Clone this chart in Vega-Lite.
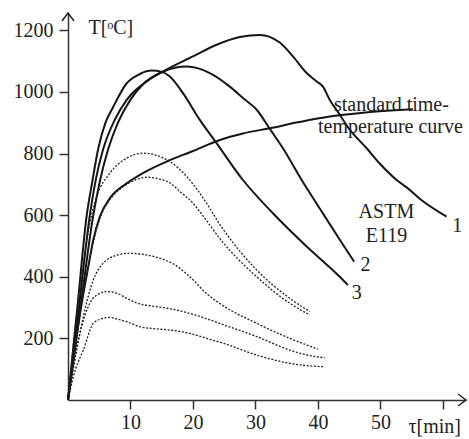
{
  "$schema": "https://vega.github.io/schema/vega-lite/v6.json",
  "width": 398,
  "height": 387,
  "autosize": "none",
  "padding": {"left": 68, "top": 13, "right": 3, "bottom": 39},
  "background": "white",
  "config": {
    "font": "Liberation Serif",
    "view": {"stroke": null},
    "axis": {
      "grid": false,
      "domainColor": "#333",
      "domainWidth": 1.5,
      "tickColor": "#333",
      "tickWidth": 1.5,
      "tickSize": 9,
      "labelFont": "Liberation Serif",
      "labelFontSize": 20,
      "labelColor": "#222",
      "titleFont": "Liberation Serif",
      "titleFontSize": 20,
      "titleFontWeight": "normal",
      "titleColor": "#222"
    }
  },
  "datasets": {
    "curves": [
      {"series": "1", "t": 0, "T": 0}, {"series": "1", "t": 2, "T": 300}, {"series": "1", "t": 4.05, "T": 600}, {"series": "1", "t": 5.1, "T": 710}, {"series": "1", "t": 6.4, "T": 812}, {"series": "1", "t": 8, "T": 900}, {"series": "1", "t": 10, "T": 975}, {"series": "1", "t": 12, "T": 1025}, {"series": "1", "t": 15.2, "T": 1066}, {"series": "1", "t": 20, "T": 1115}, {"series": "1", "t": 23.8, "T": 1153}, {"series": "1", "t": 27.5, "T": 1178}, {"series": "1", "t": 30.7, "T": 1185}, {"series": "1", "t": 33.9, "T": 1160}, {"series": "1", "t": 36, "T": 1115}, {"series": "1", "t": 38.2, "T": 1061}, {"series": "1", "t": 39.8, "T": 1034}, {"series": "1", "t": 40.8, "T": 1017}, {"series": "1", "t": 41.9, "T": 974}, {"series": "1", "t": 43.2, "T": 935}, {"series": "1", "t": 45, "T": 880}, {"series": "1", "t": 47.8, "T": 817}, {"series": "1", "t": 50, "T": 765}, {"series": "1", "t": 52.6, "T": 714}, {"series": "1", "t": 54.2, "T": 690}, {"series": "1", "t": 56.5, "T": 650}, {"series": "1", "t": 60.6, "T": 595},
      {"series": "2", "t": 0, "T": 0}, {"series": "2", "t": 1.75, "T": 300}, {"series": "2", "t": 3.5, "T": 600}, {"series": "2", "t": 4.5, "T": 720}, {"series": "2", "t": 5.6, "T": 812}, {"series": "2", "t": 7.5, "T": 910}, {"series": "2", "t": 9.4, "T": 974}, {"series": "2", "t": 12.6, "T": 1034}, {"series": "2", "t": 15.25, "T": 1066}, {"series": "2", "t": 19, "T": 1082}, {"series": "2", "t": 22.7, "T": 1061}, {"series": "2", "t": 25.9, "T": 1017}, {"series": "2", "t": 28, "T": 980}, {"series": "2", "t": 30.2, "T": 942}, {"series": "2", "t": 32.3, "T": 880}, {"series": "2", "t": 34.4, "T": 817}, {"series": "2", "t": 37.4, "T": 714}, {"series": "2", "t": 40.5, "T": 615}, {"series": "2", "t": 43.5, "T": 520}, {"series": "2", "t": 45.8, "T": 449},
      {"series": "3", "t": 0, "T": 0}, {"series": "3", "t": 1.5, "T": 300}, {"series": "3", "t": 3, "T": 600}, {"series": "3", "t": 3.9, "T": 710}, {"series": "3", "t": 4.8, "T": 812}, {"series": "3", "t": 6, "T": 900}, {"series": "3", "t": 7.25, "T": 952}, {"series": "3", "t": 9.4, "T": 1028}, {"series": "3", "t": 11.5, "T": 1058}, {"series": "3", "t": 13.4, "T": 1069}, {"series": "3", "t": 15, "T": 1065}, {"series": "3", "t": 16.3, "T": 1050}, {"series": "3", "t": 18.4, "T": 996}, {"series": "3", "t": 21.1, "T": 909}, {"series": "3", "t": 23.8, "T": 833}, {"series": "3", "t": 28, "T": 714}, {"series": "3", "t": 32.8, "T": 606}, {"series": "3", "t": 38.2, "T": 498}, {"series": "3", "t": 43.5, "T": 400}, {"series": "3", "t": 44.8, "T": 373},
      {"series": "standard", "t": 0, "T": 0}, {"series": "standard", "t": 1, "T": 150}, {"series": "standard", "t": 2, "T": 290}, {"series": "standard", "t": 3.25, "T": 433}, {"series": "standard", "t": 4.05, "T": 520}, {"series": "standard", "t": 5.1, "T": 595}, {"series": "standard", "t": 6.7, "T": 655}, {"series": "standard", "t": 9.4, "T": 703}, {"series": "standard", "t": 12.5, "T": 742}, {"series": "standard", "t": 15.8, "T": 774}, {"series": "standard", "t": 20, "T": 808}, {"series": "standard", "t": 24.3, "T": 844}, {"series": "standard", "t": 28, "T": 865}, {"series": "standard", "t": 32.3, "T": 882}, {"series": "standard", "t": 37, "T": 902}, {"series": "standard", "t": 41.9, "T": 920}, {"series": "standard", "t": 48, "T": 934}, {"series": "standard", "t": 55.2, "T": 944},
      {"series": "d1", "t": 0, "T": 0}, {"series": "d1", "t": 1.5, "T": 300}, {"series": "d1", "t": 2.5, "T": 450}, {"series": "d1", "t": 3.5, "T": 574}, {"series": "d1", "t": 4.6, "T": 660}, {"series": "d1", "t": 6.7, "T": 736}, {"series": "d1", "t": 9.4, "T": 785}, {"series": "d1", "t": 12.05, "T": 801}, {"series": "d1", "t": 14, "T": 795}, {"series": "d1", "t": 16.3, "T": 774}, {"series": "d1", "t": 19, "T": 725}, {"series": "d1", "t": 21.1, "T": 671}, {"series": "d1", "t": 24.9, "T": 552}, {"series": "d1", "t": 30.2, "T": 422}, {"series": "d1", "t": 35.5, "T": 330}, {"series": "d1", "t": 38.7, "T": 287},
      {"series": "d2", "t": 0, "T": 0}, {"series": "d2", "t": 1.2, "T": 180}, {"series": "d2", "t": 2.3, "T": 330}, {"series": "d2", "t": 3.5, "T": 460}, {"series": "d2", "t": 4.5, "T": 550}, {"series": "d2", "t": 5.5, "T": 610}, {"series": "d2", "t": 6.7, "T": 650}, {"series": "d2", "t": 9.4, "T": 700}, {"series": "d2", "t": 11, "T": 716}, {"series": "d2", "t": 12.6, "T": 723}, {"series": "d2", "t": 14.5, "T": 718}, {"series": "d2", "t": 16.3, "T": 705}, {"series": "d2", "t": 18, "T": 675}, {"series": "d2", "t": 20, "T": 639}, {"series": "d2", "t": 21.1, "T": 611}, {"series": "d2", "t": 24.9, "T": 509}, {"series": "d2", "t": 30.2, "T": 400}, {"series": "d2", "t": 35.5, "T": 314}, {"series": "d2", "t": 38.7, "T": 276},
      {"series": "d3", "t": 0, "T": 0}, {"series": "d3", "t": 1.4, "T": 162}, {"series": "d3", "t": 2.45, "T": 270}, {"series": "d3", "t": 4.05, "T": 390}, {"series": "d3", "t": 5.65, "T": 444}, {"series": "d3", "t": 7.5, "T": 468}, {"series": "d3", "t": 9.9, "T": 476}, {"series": "d3", "t": 12.5, "T": 471}, {"series": "d3", "t": 14.7, "T": 460}, {"series": "d3", "t": 17, "T": 440}, {"series": "d3", "t": 19.5, "T": 400}, {"series": "d3", "t": 22.2, "T": 345}, {"series": "d3", "t": 24.9, "T": 305}, {"series": "d3", "t": 30.2, "T": 249}, {"series": "d3", "t": 35.5, "T": 200}, {"series": "d3", "t": 40, "T": 165},
      {"series": "d4", "t": 0, "T": 0}, {"series": "d4", "t": 1, "T": 130}, {"series": "d4", "t": 1.9, "T": 216}, {"series": "d4", "t": 3.5, "T": 314}, {"series": "d4", "t": 4.8, "T": 343}, {"series": "d4", "t": 6.2, "T": 352}, {"series": "d4", "t": 8, "T": 345}, {"series": "d4", "t": 9.4, "T": 330}, {"series": "d4", "t": 11.5, "T": 312}, {"series": "d4", "t": 13.5, "T": 305}, {"series": "d4", "t": 15.8, "T": 298}, {"series": "d4", "t": 19.5, "T": 281}, {"series": "d4", "t": 22.7, "T": 260}, {"series": "d4", "t": 24.9, "T": 244}, {"series": "d4", "t": 30.2, "T": 206}, {"series": "d4", "t": 35.5, "T": 162}, {"series": "d4", "t": 38.5, "T": 145}, {"series": "d4", "t": 41.1, "T": 137},
      {"series": "d5", "t": 0, "T": 0}, {"series": "d5", "t": 1.2, "T": 100}, {"series": "d5", "t": 2.45, "T": 162}, {"series": "d5", "t": 4.05, "T": 249}, {"series": "d5", "t": 5.3, "T": 263}, {"series": "d5", "t": 6.7, "T": 268}, {"series": "d5", "t": 8, "T": 262}, {"series": "d5", "t": 9.4, "T": 254}, {"series": "d5", "t": 11.5, "T": 238}, {"series": "d5", "t": 13.5, "T": 232}, {"series": "d5", "t": 16.3, "T": 227}, {"series": "d5", "t": 19.5, "T": 216}, {"series": "d5", "t": 22.7, "T": 197}, {"series": "d5", "t": 24.9, "T": 184}, {"series": "d5", "t": 30.2, "T": 146}, {"series": "d5", "t": 35.5, "T": 119}, {"series": "d5", "t": 38, "T": 112}, {"series": "d5", "t": 40.8, "T": 108}
    ],
    "labels": [
      {"text": "standard time-", "t": 51.76, "T": 938},
      {"text": "temperature curve", "t": 51.6, "T": 865},
      {"text": "ASTM", "t": 50.96, "T": 591},
      {"text": "E119", "t": 50.96, "T": 514},
      {"text": "1", "t": 62.3, "T": 546},
      {"text": "2", "t": 47.6, "T": 420},
      {"text": "3", "t": 46.2, "T": 327}
    ],
    "arrows": [
      {"axis": "y", "t": 0, "T": 1256},
      {"axis": "x", "t": 63.7, "T": 0}
    ]
  },
  "layer": [
    {
      "data": {"name": "curves"},
      "transform": [{"filter": {"field": "series", "oneOf": ["1", "2", "3", "standard"]}}],
      "mark": {"type": "line", "interpolate": "monotone", "strokeWidth": 2, "color": "#151515"},
      "encoding": {
        "x": {
          "field": "t", "type": "quantitative",
          "scale": {"domain": [0, 63.7], "nice": false},
          "axis": {
            "values": [10, 20, 30, 40, 50, 60],
            "format": "d",
            "labelExpr": "datum.value == 60 ? '' : datum.label",
            "labelPadding": 3,
            "title": "τ[min]",
            "titleX": 340, "titleY": 32, "titleAlign": "left", "titleBaseline": "alphabetic", "titleAnchor": "start"
          }
        },
        "y": {
          "field": "T", "type": "quantitative",
          "scale": {"domain": [0, 1256], "nice": false},
          "axis": {
            "values": [200, 400, 600, 800, 1000, 1200],
            "format": "d",
            "labelPadding": 6,
            "title": "T[ᵒC]",
            "titleAngle": 0, "titleX": 20, "titleY": 20, "titleAlign": "left", "titleBaseline": "alphabetic", "titleAnchor": "start"
          }
        },
        "detail": {"field": "series"}
      }
    },
    {
      "data": {"name": "curves"},
      "transform": [{"filter": {"field": "series", "oneOf": ["d1", "d2", "d3", "d4", "d5"]}}],
      "mark": {"type": "line", "interpolate": "monotone", "strokeWidth": 1.3, "strokeDash": [2, 1.6], "color": "#222"},
      "encoding": {
        "x": {"field": "t", "type": "quantitative"},
        "y": {"field": "T", "type": "quantitative"},
        "detail": {"field": "series"}
      }
    },
    {
      "data": {"name": "labels"},
      "mark": {"type": "text", "font": "Liberation Serif", "fontSize": 20, "align": "center", "baseline": "alphabetic", "color": "#222"},
      "encoding": {
        "x": {"field": "t", "type": "quantitative"},
        "y": {"field": "T", "type": "quantitative"},
        "text": {"field": "text"}
      }
    },
    {
      "data": {"name": "arrows"},
      "mark": {"type": "point", "filled": false, "size": 144, "strokeWidth": 1.5, "color": "#222", "opacity": 1},
      "encoding": {
        "x": {"field": "t", "type": "quantitative"},
        "y": {"field": "T", "type": "quantitative"},
        "shape": {
          "field": "axis", "type": "nominal",
          "scale": {"domain": ["x", "y"], "range": ["M-1.33,-1L0,0L-1.33,1", "M-1,1.33L0,0L1,1.33"]},
          "legend": null
        }
      }
    }
  ]
}
